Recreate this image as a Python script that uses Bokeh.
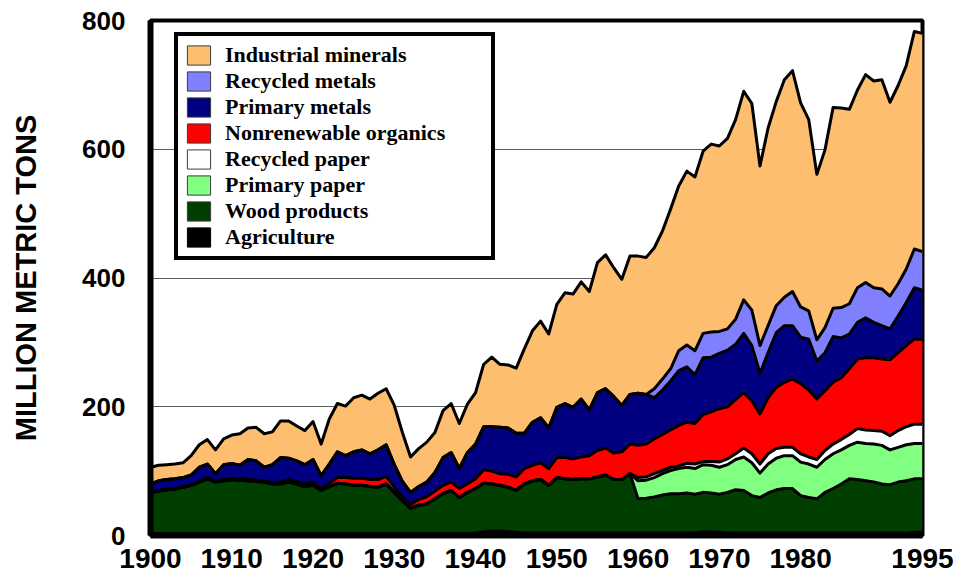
from bokeh.plotting import figure
from bokeh.models import ColumnDataSource, FixedTicker, Legend, LegendItem, Range1d
from bokeh.embed import file_html
from bokeh.resources import INLINE

years = list(range(1900, 1996))

agriculture = [3] * 40 + [4, 6, 7, 7, 6, 5] + [4] * 22 + [6, 6, 5] + [4] * 23 + [5, 5]

wood = [63, 66, 68, 69, 72, 75, 80, 85, 80, 82,
        84, 83, 82, 81, 80, 77, 77, 80, 77, 73,
        75, 67, 73, 78, 77, 75, 75, 73, 72, 77,
        64, 51, 39, 44, 46, 54, 62, 67, 56, 64,
        69, 75, 73, 71, 69, 65, 76, 81, 83, 74,
        86, 84, 83, 84, 84, 87, 90, 83, 83, 92,
        53, 54, 56, 59, 61, 61, 62, 60, 61, 60,
        59, 63, 67, 66, 58, 55, 62, 67, 69, 69,
        58, 55, 53, 63, 69, 76, 84, 83, 81, 79,
        76, 75, 79, 81, 83, 83]

primary_paper = [0] * 60 + [28, 28, 30, 33, 36, 39, 40, 40, 43, 43,
                            42, 43, 47, 52, 51, 38, 45, 49, 51, 51,
                            52, 52, 49, 51, 54, 53, 52, 58, 58, 59,
                            60, 54, 54, 56, 55, 55]

recycled_paper = [0] * 60 + [5, 5, 6, 5, 5, 4, 6, 7, 5, 6,
                             8, 9, 9, 14, 14, 14, 16, 15, 13, 13,
                             13, 11, 12, 14, 15, 16, 17, 21, 21, 21,
                             22, 22, 26, 28, 30, 30]

nonrenewable = [1, 1, 1, 1, 1, 1, 1, 2, 2, 2,
                2, 2, 2, 2, 2, 2, 3, 4, 4, 4,
                5, 3, 5, 9, 10, 11, 11, 11, 12, 12,
                8, 6, 6, 9, 11, 12, 13, 13, 14, 13,
                15, 21, 20, 18, 20, 21, 24, 24, 26, 26,
                31, 33, 32, 34, 36, 41, 42, 41, 43, 46,
                50, 51, 54, 56, 58, 63, 64, 63, 73, 77,
                83, 81, 84, 86, 82, 78, 87, 95, 101, 106,
                109, 104, 94, 93, 96, 96, 102, 108, 112, 113,
                112, 118, 121, 126, 132, 132]

primary_metals = [13, 15, 15, 15, 14, 15, 22, 21, 11, 23,
                  23, 21, 31, 30, 21, 28, 38, 33, 32, 30,
                  35, 20, 30, 40, 34, 41, 44, 40, 46, 49,
                  35, 24, 19, 20, 23, 29, 43, 46, 31, 49,
                  54, 67, 69, 72, 72, 68, 55, 67, 70, 63,
                  78, 84, 80, 90, 71, 90, 92, 88, 72, 77,
                  81, 77, 64, 69, 76, 85, 86, 76, 88, 85,
                  86, 88, 86, 92, 86, 63, 70, 85, 88, 83,
                  72, 79, 59, 59, 71, 62, 54, 57, 62, 55,
                  52, 48, 57, 67, 80, 76]

recycled_metals = [0] * 62 + [14, 17, 19, 31, 34, 37, 38, 39,
                              34, 33, 39, 52, 55, 43, 42, 42, 44, 53,
                              47, 44, 33, 39, 44, 47, 47, 54, 55, 54,
                              57, 51, 50, 52, 60, 60]

industrial_minerals = [26, 24, 23, 23, 23, 30, 35, 38, 37, 40,
                       44, 49, 49, 52, 52, 51, 57, 58, 54, 53,
                       59, 49, 70, 75, 77, 84, 85, 85, 88, 87,
                       92, 76, 55, 59, 62, 62, 73, 76, 70, 75,
                       80, 97, 108, 98, 98, 101, 131, 142, 150, 146,
                       160, 172, 176, 182, 184, 202, 208, 200, 196, 215,
                       213, 213, 219, 230, 248, 256, 270, 270, 283, 292,
                       288, 296, 310, 324, 321, 279, 307, 317, 338, 343,
                       317, 297, 257, 276, 312, 310, 302, 307, 323, 321,
                       325, 301, 308, 316, 338, 339]

layer_keys = ["agriculture", "wood", "primary_paper", "recycled_paper",
              "nonrenewable", "primary_metals", "recycled_metals", "industrial_minerals"]
layer_labels = ["Agriculture", "Wood products", "Primary paper", "Recycled paper",
                "Nonrenewable organics", "Primary metals", "Recycled metals", "Industrial minerals"]
layer_colors = ["#000000", "#003f00", "#80ff80", "#ffffff",
                "#ff0000", "#000080", "#8080ff", "#fdbf6f"]

x_ticks = [1900, 1910, 1920, 1930, 1940, 1950, 1960, 1970, 1980, 1995]
y_ticks = [0, 200, 400, 600, 800]

source = ColumnDataSource(dict(
    year=years, agriculture=agriculture, wood=wood, primary_paper=primary_paper,
    recycled_paper=recycled_paper, nonrenewable=nonrenewable, primary_metals=primary_metals,
    recycled_metals=recycled_metals, industrial_minerals=industrial_minerals))

p = figure(width=971, height=580, output_backend="svg", toolbar_location=None,
           x_range=Range1d(1900, 1995), y_range=Range1d(0, 800),
           min_border_left=150, min_border_right=49, min_border_top=20, min_border_bottom=45)

p.varea_stack(stackers=layer_keys, x="year", color=layer_colors, source=source)
p.vline_stack(stackers=layer_keys, x="year", color="black", line_width=3,
              line_join="round", source=source)

nan = float("nan")
items = []
for lab, col in reversed(list(zip(layer_labels, layer_colors))):
    r = p.quad(left=[nan], right=[nan], top=[nan], bottom=[nan], fill_color=col,
               line_color="#000000" if col == "#000000" else "#3c3c3c", line_width=1)
    items.append(LegendItem(label=lab, renderers=[r]))

legend = Legend(items=items, location=(24, 275),
                label_text_font="Liberation Serif", label_text_font_style="bold",
                label_text_font_size="22px", label_text_color="black",
                glyph_width=29, glyph_height=24, label_standoff=12,
                padding=6, spacing=0, label_width=260, label_height=24,
                border_line_color="black", border_line_width=4, border_line_alpha=1,
                background_fill_color="white", background_fill_alpha=1, margin=0)
p.add_layout(legend)

p.outline_line_color = "black"
p.outline_line_width = 4
p.outline_line_alpha = 1

p.xaxis.ticker = FixedTicker(ticks=x_ticks)
p.yaxis.ticker = FixedTicker(ticks=y_ticks)
p.xgrid.visible = False
p.ygrid.grid_line_color = "#5a5a5a"
p.ygrid.grid_line_width = 1

for ax in (p.xaxis, p.yaxis):
    ax.axis_line_width = 6
    ax.axis_line_color = "black"
    ax.major_tick_line_color = None
    ax.minor_tick_line_color = None
    ax.major_tick_out = 0
    ax.major_tick_in = 0
    ax.major_label_text_font = "Liberation Sans"
    ax.major_label_text_font_style = "bold"
    ax.major_label_text_color = "black"

p.xaxis.major_label_text_font_size = "28px"
p.xaxis.major_label_standoff = 13
p.yaxis.major_label_text_font_size = "26px"
p.yaxis.major_label_standoff = 25
p.yaxis.axis_label = "MILLION METRIC TONS"
p.yaxis.axis_label_text_font = "Liberation Sans"
p.yaxis.axis_label_text_font_style = "bold"
p.yaxis.axis_label_text_font_size = "29px"
p.yaxis.axis_label_text_color = "black"
p.yaxis.axis_label_standoff = 37

open("out.html", "w").write(file_html(p, INLINE))
